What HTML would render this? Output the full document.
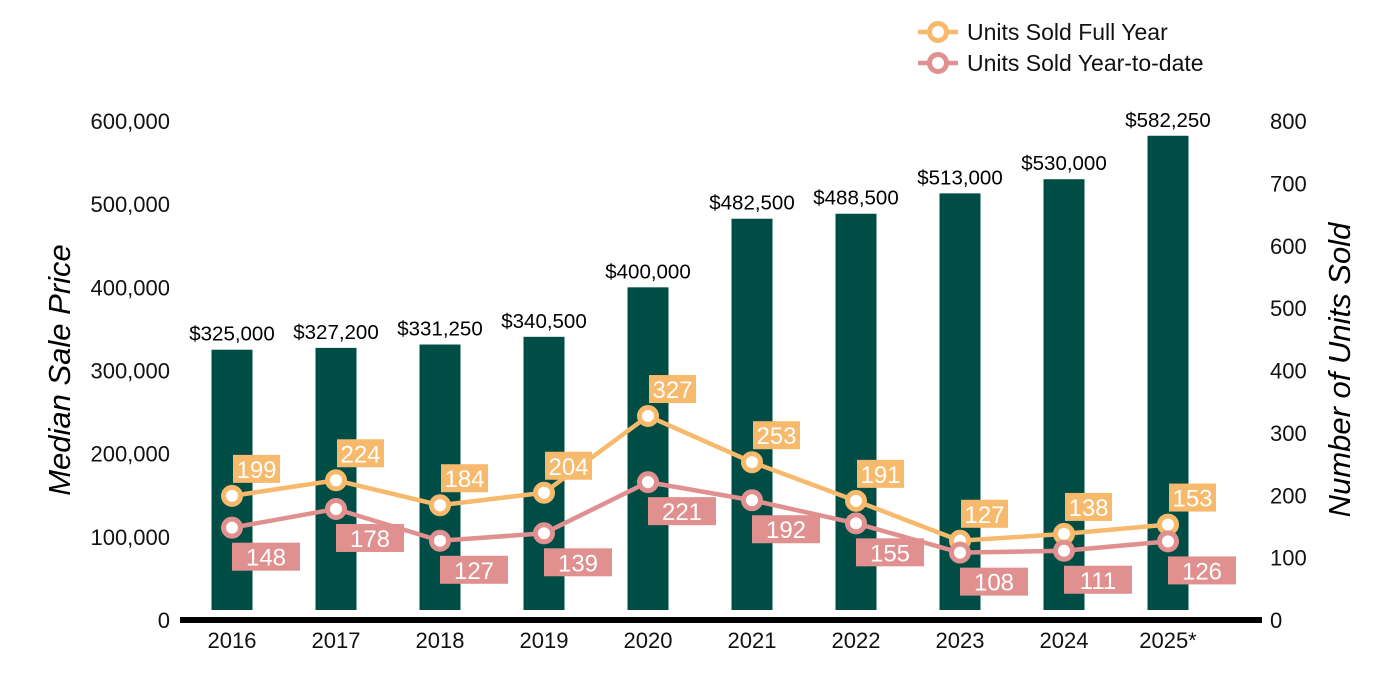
<!DOCTYPE html>
<html><head><meta charset="utf-8"><style>
body{margin:0;background:#fff;}
svg{display:block;font-family:"Liberation Sans",Arial,sans-serif;}
</style></head><body>
<svg id="chart" width="1400" height="700"></svg>
<script>
const years=["2016","2017","2018","2019","2020","2021","2022","2023","2024","2025*"];
const prices=[325000,327200,331250,340500,400000,482500,488500,513000,530000,582250];
const priceLabels=["$325,000","$327,200","$331,250","$340,500","$400,000","$482,500","$488,500","$513,000","$530,000","$582,250"];
const fullYear=[199,224,184,204,327,253,191,127,138,153];
const ytd=[148,178,127,139,221,192,155,108,111,126];
const leftTicks=[0,100000,200000,300000,400000,500000,600000];
const rightTicks=[0,100,200,300,400,500,600,700,800];

const NS="http://www.w3.org/2000/svg";
const svg=document.getElementById('chart');
const y0=620,yTop=121;
const yL=v=>y0-v/600000*(y0-yTop);
const yR=v=>y0-v/800*(y0-yTop);
const xC=i=>232+i*104;
function el(t,a,txt){const e=document.createElementNS(NS,t);for(const k in a)e.setAttribute(k,a[k]);if(txt!==undefined)e.textContent=txt;svg.appendChild(e);return e;}

leftTicks.forEach(v=>{const t=el('text',{x:170,y:yL(v)+8,'text-anchor':'end','font-size':22,fill:'#111'},v.toLocaleString('en-US'));

});
rightTicks.forEach(v=>{const t=el('text',{x:1270,y:yR(v)+8,'font-size':22,fill:'#111'},String(v));

});

prices.forEach((p,i)=>{
 const b=el('rect',{x:xC(i)-20.5,y:yL(p),width:41,height:610-yL(p),fill:'#004d45'});
 
 
 const t=el('text',{x:xC(i),y:yL(p)-9,'text-anchor':'middle','font-size':20.5,fill:'#000'},priceLabels[i]);
 
 
 const xl=el('text',{x:xC(i),y:648,'text-anchor':'middle','font-size':22,fill:'#111'},years[i]);
 
 
});
const base=el('rect',{x:180,y:617,width:1082,height:6,fill:'#000'});



function series(vals,color,name,above){
 const pl=el('polyline',{points:vals.map((v,i)=>xC(i)+','+yR(v)).join(' '),fill:'none',stroke:color,'stroke-width':4.5});
 
 
 vals.forEach((v,i)=>{
  const c=el('circle',{cx:xC(i),cy:yR(v),r:8.5,fill:'#fff',stroke:color,'stroke-width':5});
  
  
  const bx=above?xC(i)+1:xC(i);const by=above?yR(v)-41:yR(v)+15;const bw=above?47:68;
  const r=el('rect',{x:bx,y:by,width:bw,height:28,fill:color});
  
  
  const t=el('text',{x:bx+bw/2,y:by+23,'text-anchor':'middle','font-size':24,fill:'#fff'},String(v));
  
  
 });
}
series(fullYear,'#f7b96b','full-year',true);
series(ytd,'#e0908e','ytd',false);

[['#f7b96b','Units Sold Full Year',32],['#e0908e','Units Sold Year-to-date',63]].forEach(([c,l,y])=>{
 const ln=el('line',{x1:918,x2:958,y1:y,y2:y,stroke:c,'stroke-width':4.5});
 
 
 const ci=el('circle',{cx:938,cy:y,r:8.5,fill:'#fff',stroke:c,'stroke-width':5});
 
 
 const t=el('text',{x:967,y:y+8,'font-size':23,fill:'#111'},l);
 
 
});
const lt=el('text',{x:0,y:0,transform:'translate(70,370) rotate(-90)','text-anchor':'middle','font-size':31,'font-style':'italic',fill:'#000'},'Median Sale Price');


const rt=el('text',{x:0,y:0,transform:'translate(1350,370) rotate(-90)','text-anchor':'middle','font-size':31,'font-style':'italic',fill:'#000'},'Number of Units Sold');


</script>
</body></html>
